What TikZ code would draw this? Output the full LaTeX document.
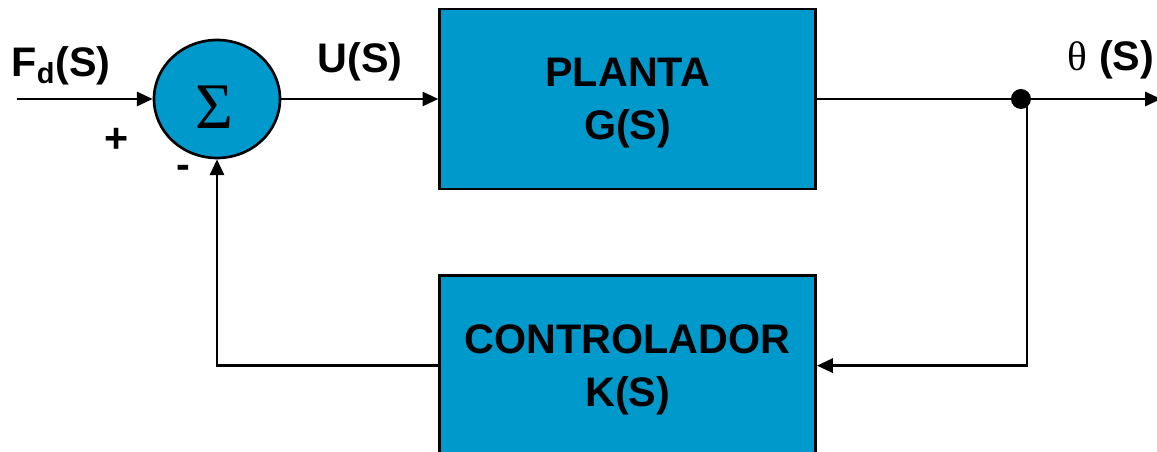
\documentclass[tikz,border=0pt]{standalone}
\usepackage{fontspec}
\setmainfont{Liberation Sans}
\newfontfamily\serifsym{Liberation Serif}
\usepackage{xcolor}
\usetikzlibrary{shapes, arrows.meta, positioning, calc}
\definecolor{boxblue}{RGB}{0,153,204}

\begin{document}
\begin{tikzpicture}[font=\bfseries\fontsize{23.5}{30}\selectfont]
    % Styles
    \tikzstyle{block} = [rectangle, draw, line width=1.5pt, fill=boxblue, minimum width=7.52cm, minimum height=3.6cm, align=center, text depth=0pt]
    \tikzstyle{sumnode} = [ellipse, draw, line width=1.5pt, fill=boxblue, minimum width=2.52cm, minimum height=2.36cm, inner sep=0pt]
    \tikzstyle{lbl} = [inner sep=0pt]
    \tikzstyle{arrow} = [line width=1.5pt, -{Triangle[length=9pt,width=8pt]}]

    \useasboundingbox (0,0) rectangle (23.14,9.04);

    % Nodes
    \node [sumnode] (sum) at (4.34,7.06) {};
    \node [block, right=3.14cm of sum] (planta) {PLANTA\\G(S)};
    \node [block, below=1.68cm of planta] (ctrl) {CONTROLADOR\\K(S)};

    \coordinate [left=2.72cm of sum.west] (in);
    \coordinate [right=4.2cm of planta.east] (tap);
    \coordinate [right=2.68cm of tap] (out);

    % Labels
    \node [lbl] (sigma) at ($(sum)+(-0.06,-0.16)$) {\serifsym\mdseries\fontsize{37}{37}\selectfont Σ};
    \node [lbl] (fd) at (1.22,7.72) {F\textsubscript{d}(S)};
    \node [lbl] (us) at (7.2,7.8) {U(S)};
    \node [lbl] (th) at (22.22,7.84) {{\serifsym\mdseries θ} (S)};
    \node [lbl] (plus) at (2.34,6.24) {+};
    \node [lbl] (minus) at (3.66,5.6) {-};

    % Connections
    \draw [arrow] (in) -- (sum.west);
    \draw [arrow] (sum.east) -- (planta.west);
    \draw [arrow] (planta.east) -- (out);
    \draw [arrow] (tap) |- (ctrl.east);
    \draw [arrow] (ctrl.west) -| (sum.south);
    \fill ($(tap)+(-0.12,0)$) circle (0.2);

\end{tikzpicture}
\end{document}
